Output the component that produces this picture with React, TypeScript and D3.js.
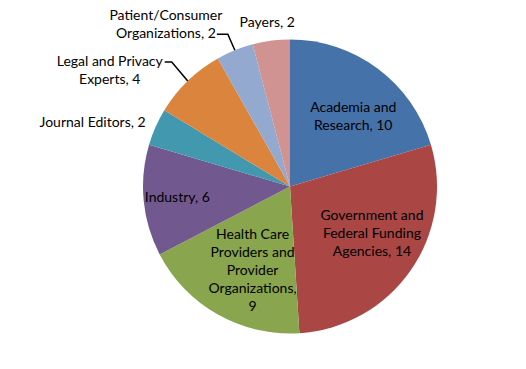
import React, { useRef, useEffect } from 'react';
import * as d3 from 'd3';

// stakeholder groups, clockwise from 12 o'clock
const groups = [
  'Academia and Research',
  'Government and Federal Funding Agencies',
  'Health Care Providers and Provider Organizations',
  'Industry',
  'Journal Editors',
  'Legal and Privacy Experts',
  'Patient/Consumer Organizations',
  'Payers',
];
const counts = [10, 14, 9, 6, 2, 4, 2, 2];
const labelLines = [
  ['Academia and', 'Research, 10'],
  ['Government and', 'Federal Funding', 'Agencies, 14'],
  ['Health Care', 'Providers and', 'Provider', 'Organizations,', '9'],
  ['Industry, 6'],
  ['Journal Editors, 2'],
  ['Legal and Privacy', 'Experts, 4'],
  ['Patient/Consumer', 'Organizations, 2'],
  ['Payers, 2'],
];
const colors = ['#4672AA', '#AA4644', '#89A54E', '#71588F', '#4198AF', '#DB843D', '#93A9CF', '#D19392'];

// label layout: inside labels sit at a radius fraction + nudge, outside ones are offset from the rim
const insideLayout: Record<number, { r: number; dx: number; dy: number }> = {
  0: { r: 0.64, dx: 7, dy: 5 },
  1: { r: 0.63, dx: 6, dy: -6 },
  2: { r: 0.63, dx: 8, dy: 3 },
  3: { r: 0.77, dx: 0, dy: 0 },
};
const outsideLayout: Record<number, { tx: number; ty: number; anchor: string; elbow?: [number, number]; end?: [number, number] }> = {
  4: { tx: -10, ty: -5, anchor: 'end' },
  5: { tx: -78, ty: -11, anchor: 'middle', elbow: [-16, -19], end: [-23, -19] },
  6: { tx: -69, ty: -26, anchor: 'middle', elbow: [-7, -16], end: [-18, -16] },
  7: { tx: -4, ty: -19, anchor: 'middle' },
};

export default function App() {
  const svgRef = useRef<SVGSVGElement>(null);

  useEffect(() => {
    document.body.style.margin = '0';
    const width = 526;
    const height = 369;
    const cx = 290;
    const cy = 186.5;
    const radius = 147;

    const svg = d3.select(svgRef.current);
    svg.selectAll('*').remove();
    svg.attr('width', width).attr('height', height);

    const g = svg.append('g').attr('transform', `translate(${cx},${cy})`);

    const data = groups.map((name, i) => ({ name, value: counts[i], i }));
    const pie = d3.pie<any>().sort(null).value(d => d.value);
    const arcs = pie(data);
    const arc = d3.arc<any>().innerRadius(0).outerRadius(radius);

    g.selectAll('path.slice')
      .data(arcs)
      .enter()
      .append('path')
      .attr('class', 'slice')
      .attr('d', arc as any)
      .attr('fill', d => colors[d.data.i]);

    const fontSize = 14;
    const lineH = 18;
    const font = 'Lato, "Open Sans", sans-serif';

    const addText = (x: number, y: number, lines: string[], anchor: string) => {
      const t = g.append('text')
        .attr('text-anchor', anchor)
        .style('font-family', font)
        .style('font-size', fontSize + 'px')
        .attr('fill', '#000');
      lines.forEach((ln, k) => {
        t.append('tspan')
          .attr('x', x)
          .attr('y', y + (k - (lines.length - 1) / 2) * lineH)
          .attr('dy', '0.35em')
          .text(ln);
      });
    };

    arcs.forEach(a => {
      const i = a.data.i;
      const mid = (a.startAngle + a.endAngle) / 2;
      const lines = labelLines[i];
      if (insideLayout[i]) {
        const L = insideLayout[i];
        const r = radius * L.r;
        addText(Math.sin(mid) * r + L.dx, -Math.cos(mid) * r + L.dy, lines, 'middle');
      } else {
        const L = outsideLayout[i];
        const ex = Math.sin(mid) * radius;
        const ey = -Math.cos(mid) * radius;
        if (L.elbow && L.end) {
          g.append('polyline')
            .attr('points', [
              [ex, ey],
              [ex + L.elbow[0], ey + L.elbow[1]],
              [ex + L.end[0], ey + L.end[1]],
            ].map(p => p.join(',')).join(' '))
            .attr('fill', 'none')
            .attr('stroke', '#000')
            .attr('stroke-width', 1.5);
        }
        addText(ex + L.tx, ey + L.ty, lines, L.anchor);
      }
    });
  }, []);

  return (
    <div>
      <svg ref={svgRef}></svg>
    </div>
  );
}
